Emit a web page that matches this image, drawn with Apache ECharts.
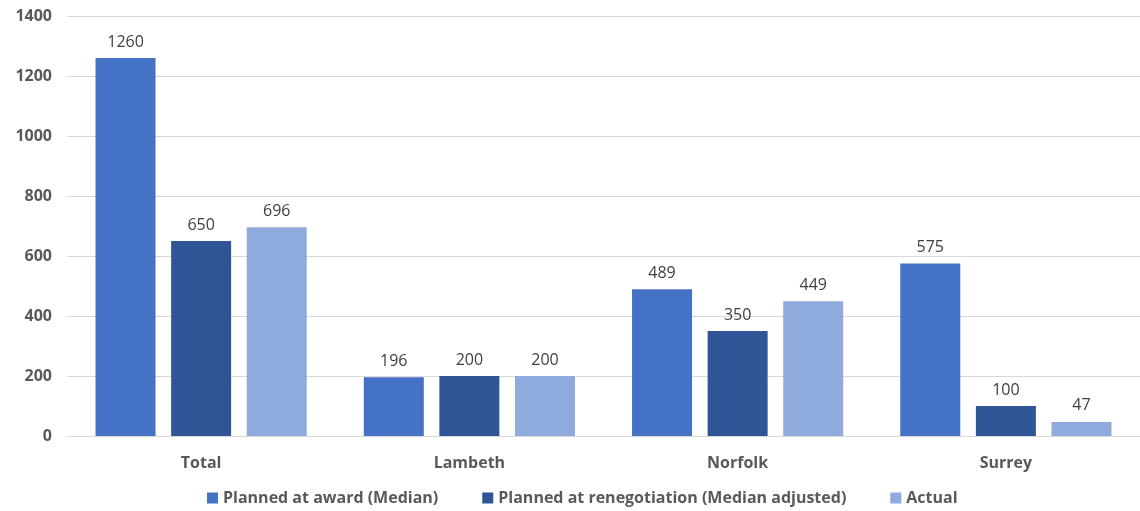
<!DOCTYPE html>
<html>
<head>
<meta charset="utf-8">
<script src="https://cdn.jsdelivr.net/npm/echarts@6/dist/echarts.min.js"></script>
<style>
  html, body { margin: 0; padding: 0; background: #fff; }
  #main { width: 1140px; height: 511px; }
</style>
</head>
<body>
<div id="main"></div>
<script>
// chart data
var categories = ['Total', 'Lambeth', 'Norfolk', 'Surrey'];
var seriesNames = ['Planned at award (Median)', 'Planned at renegotiation (Median adjusted)', 'Actual'];
var plannedAward = [1260, 196, 489, 575];
var plannedReneg = [650, 200, 350, 100];
var actual = [696, 200, 449, 47];
var colors = ['#4472C4', '#2F5597', '#8FAADC'];

var font = '"Open Sans", "Liberation Sans", sans-serif';

function makeSeries(name, data, color) {
  return {
    name: name,
    type: 'bar',
    data: data,
    barWidth: 60,
    barGap: '26%',
    itemStyle: { color: color },
    label: {
      show: true,
      position: 'top',
      distance: 8,
      color: '#404040',
      fontSize: 16,
      fontFamily: font
    }
  };
}

var myChart = echarts.init(document.getElementById('main'));
myChart.setOption({
  backgroundColor: '#fff',
  animation: false,
  grid: {
    left: 67,
    right: -4,
    top: 16,
    bottom: 75
  },
  legend: {
    bottom: 0,
    left: 202,
    itemWidth: 11,
    itemHeight: 11,
    itemGap: 44,
    icon: 'rect',
    textStyle: {
      color: '#595959',
      fontSize: 16,
      fontWeight: 'bold',
      fontFamily: font
    },
    data: seriesNames
  },
  xAxis: {
    type: 'category',
    data: categories,
    axisLine: { lineStyle: { color: '#D9D9D9' } },
    axisTick: { show: false },
    axisLabel: {
      margin: 19,
      color: '#595959',
      fontSize: 16,
      fontWeight: 'bold',
      fontFamily: font
    }
  },
  yAxis: {
    type: 'value',
    min: 0,
    max: 1400,
    interval: 200,
    axisLine: { show: false },
    axisTick: { show: false },
    splitLine: { lineStyle: { color: '#D9D9D9' } },
    axisLabel: {
      margin: 15,
      color: '#595959',
      fontSize: 16,
      fontWeight: 'bold',
      fontFamily: font,
      formatter: function (v) { return String(v); }
    }
  },
  series: [
    makeSeries(seriesNames[0], plannedAward, colors[0]),
    makeSeries(seriesNames[1], plannedReneg, colors[1]),
    makeSeries(seriesNames[2], actual, colors[2])
  ]
});
</script>
</body>
</html>
